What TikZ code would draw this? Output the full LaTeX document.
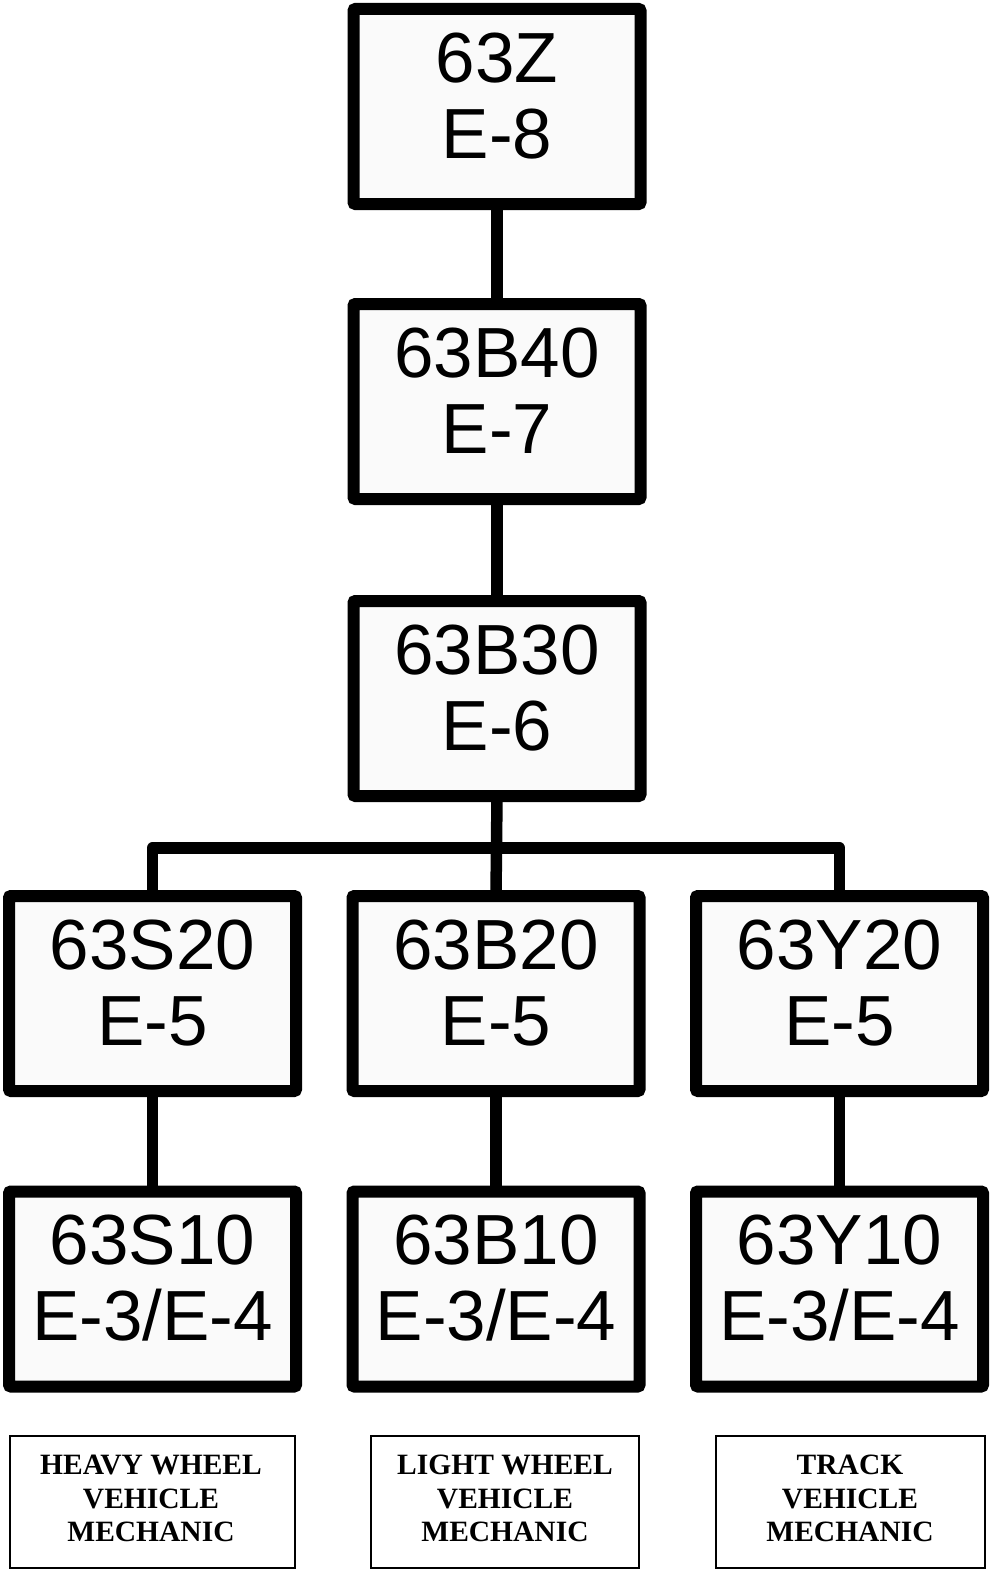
\documentclass[tikz,border=0pt]{standalone}
\usepackage{fontspec}
\setmainfont{Liberation Sans}
\newfontfamily\labelfont{Liberation Serif}
\begin{document}
\begin{tikzpicture}[x=1pt,y=-1pt,
  bigbox/.style={draw=black, fill=black!2, line width=12pt, rounded corners=2pt,
    minimum width=287pt, minimum height=195pt, inner sep=0pt, outer sep=0pt},
  bigtxt/.style={font=\fontsize{71}{75}\selectfont, inner sep=0pt, anchor=base},
  lblbox/.style={draw=black, line width=1.5pt, minimum height=132pt, inner sep=0pt, outer sep=0pt},
  lbltxt/.style={font=\labelfont\bfseries\fontsize{29.5}{34}\selectfont, inner sep=0pt, anchor=base},
  conn/.style={line width=11.5pt, line join=round}]
\useasboundingbox (0,0) rectangle (989,1571);
\newcommand\mkbox[5]{%
  \node[bigbox] (#1) at (#2,#3) {};
  \node[bigtxt] (#1a) at ([yshift=-73pt]#1.north) {#4};
  \node[bigtxt] (#1b) at ([yshift=-149pt]#1.north) {#5};}
\mkbox{z}{497}{106.5}{63Z}{E-8}
\mkbox{b40}{497}{401.5}{63B40}{E-7}
\mkbox{b30}{497}{698.5}{63B30}{E-6}
\mkbox{s20}{152.5}{993.5}{63S20}{E-5}
\mkbox{b20}{496}{993.5}{63B20}{E-5}
\mkbox{y20}{839.5}{993.5}{63Y20}{E-5}
\mkbox{s10}{152.5}{1289}{63S10}{E-3/E-4}
\mkbox{b10}{496}{1289}{63B10}{E-3/E-4}
\mkbox{y10}{839.5}{1289}{63Y10}{E-3/E-4}
\coordinate (bar) at (497,848);
\draw[conn] (z.south) -- (b40.north);
\draw[conn] (b40.south) -- (b30.north);
\draw[conn] (b30.south) -- (b20.north);
\draw[conn] (s20.north) -- (s20.north |- bar) -- (y20.north |- bar) -- (y20.north);
\draw[conn] (s20.south) -- (s10.north);
\draw[conn] (b20.south) -- (b10.north);
\draw[conn] (y20.south) -- (y10.north);
\node[lblbox, minimum width=285pt] (l1) at (152.5,1502) {};
\node[lblbox, minimum width=268pt] (l2) at (505,1502) {};
\node[lblbox, minimum width=269pt] (l3) at (850.5,1502) {};
\node[lbltxt] (l1a) at (151,1474) {HEAVY WHEEL};
\node[lbltxt] (l1b) at (151,1508) {VEHICLE};
\node[lbltxt] (l1c) at (151,1541) {MECHANIC};
\node[lbltxt] (l2a) at (505,1474) {LIGHT WHEEL};
\node[lbltxt] (l2b) at (505,1508) {VEHICLE};
\node[lbltxt] (l2c) at (505,1541) {MECHANIC};
\node[lbltxt] (l3a) at (850,1474) {TRACK};
\node[lbltxt] (l3b) at (850,1508) {VEHICLE};
\node[lbltxt] (l3c) at (850,1541) {MECHANIC};
\end{tikzpicture}
\end{document}
